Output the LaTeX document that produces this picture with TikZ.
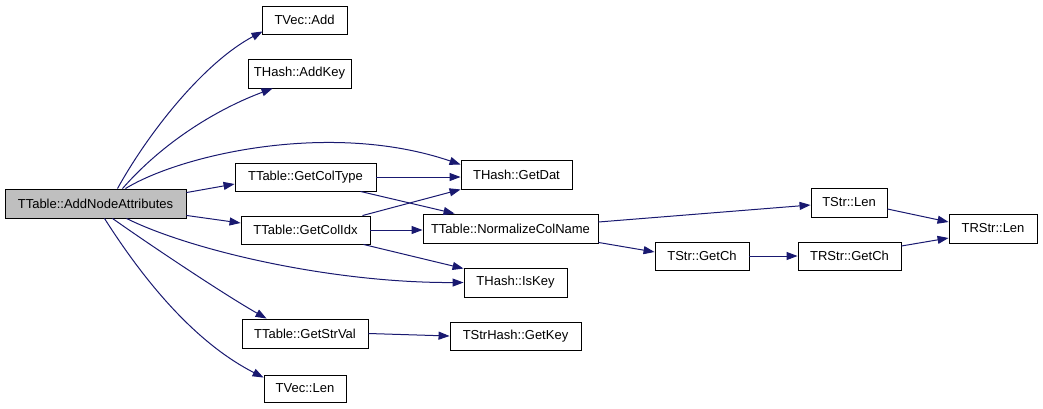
\documentclass[tikz,border=0pt]{standalone}
\usepackage{fontspec}
\setmainfont{Liberation Sans}
\usetikzlibrary{arrows.meta}
\definecolor{edgeblue}{RGB}{25,25,112}
\definecolor{rootgray}{RGB}{191,191,191}
\tikzset{
  fnbox/.style={draw=black, line width=0.9pt, fill=white, inner sep=0pt,
    font=\fontsize{13}{15}\selectfont},
  rootbox/.style={fnbox, fill=rootgray},
  call/.style={draw=edgeblue, line width=1pt,
    -{Triangle[length=11pt,width=8pt]}, edgeblue},
}
\newcommand{\fnnode}[7][fnbox]{%
  \node[#1, minimum width=#5pt, minimum height=#6pt] (#2) at (#3,#4) {#7};}
\begin{document}
\begin{tikzpicture}[x=1pt,y=-1pt]
\useasboundingbox (0,0) rectangle (1043,408);
\fnnode[rootbox]{A}{95.5}{203.5}{181}{29}{TTable::AddNodeAttributes}
\fnnode{vadd}{304.5}{20}{85}{28}{TVec::Add}
\fnnode{addkey}{299.5}{73.5}{103}{29}{THash::AddKey}
\fnnode{coltype}{305.5}{177}{141}{28}{TTable::GetColType}
\fnnode{getdat}{516.5}{174.5}{111}{29}{THash::GetDat}
\fnnode{colidx}{305.5}{230}{129}{28}{TTable::GetColIdx}
\fnnode{norm}{510.5}{228.5}{175}{29}{TTable::NormalizeColName}
\fnnode{iskey}{515.5}{282.5}{103}{29}{THash::IsKey}
\fnnode{strval}{305}{333.5}{126}{29}{TTable::GetStrVal}
\fnnode{getkey}{515.5}{336}{131}{28}{TStrHash::GetKey}
\fnnode{vlen}{305}{388.5}{82}{27}{TVec::Len}
\fnnode{strlen}{849}{202.5}{76}{29}{TStr::Len}
\fnnode{getch}{702}{256}{94}{28}{TStr::GetCh}
\fnnode{rgetch}{849.5}{256}{103}{28}{TRStr::GetCh}
\fnnode{rlen}{993}{228.5}{88}{29}{TRStr::Len}

% curved calls from the root
\draw[call] ([xshift=22pt]A.north) .. controls (150,130) and (205,62) .. ([xshift=1pt,yshift=3pt]vadd.south west);
\draw[call] ([xshift=27pt]A.north) .. controls (165,140) and (220,108) .. ([xshift=25pt]addkey.south west);
\draw[call] ([xshift=30pt]A.north) .. controls (180,155) and (330,120) .. ([yshift=10pt]getdat.west);
\draw[call] ([xshift=31pt]A.south) .. controls (190,250) and (330,283) .. (iskey.west);
\draw[call] ([xshift=17pt]A.south) .. controls (150,245) and (225,295) .. ([xshift=25pt]strval.north west);
\draw[call] ([xshift=9pt]A.south) .. controls (150,290) and (200,345) .. ([yshift=-3pt]vlen.north west);

% straight calls
\draw[call] ([yshift=-4pt]A.north east) -- ([yshift=-7pt]coltype.west);
\draw[call] ([yshift=3pt]A.south east) -- ([yshift=7pt]colidx.west);
\draw[call] (coltype.east) -- ([yshift=-2.5pt]getdat.west);
\draw[call] ([xshift=-16pt]coltype.south east) -- ([xshift=32pt]norm.north west);
\draw[call] ([xshift=-8pt]colidx.north east) -- (getdat.south west);
\draw[call] (colidx.east) -- ([yshift=-1.5pt]norm.west);
\draw[call] ([xshift=-7pt]colidx.south east) -- ([yshift=-1pt]iskey.north west);
\draw[call] ([yshift=6.5pt]norm.east) -- ([yshift=-2.5pt]strlen.west);
\draw[call] ([yshift=1pt]norm.south east) -- ([yshift=4pt]getch.west);
\draw[call] (getch.east) -- (rgetch.west);
\draw[call] ([yshift=-6.5pt]strlen.east) -- ([yshift=6.5pt]rlen.west);
\draw[call] ([yshift=10pt]rgetch.east) -- ([yshift=-9.5pt]rlen.west);
\draw[call] (strval.east) -- (getkey.west);
\end{tikzpicture}
\end{document}
